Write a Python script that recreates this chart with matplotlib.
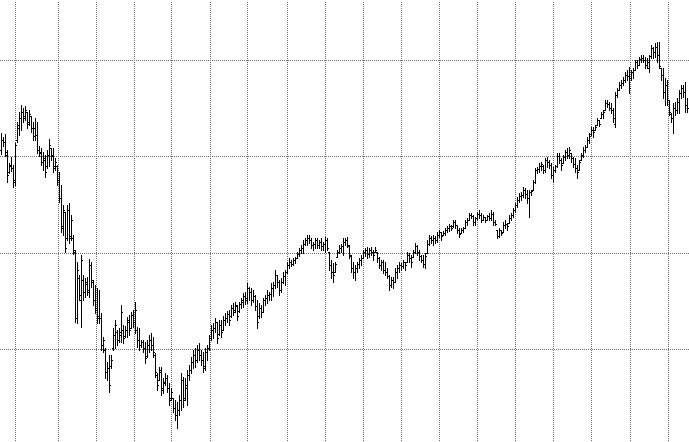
import matplotlib
matplotlib.use('Agg')
import matplotlib.pyplot as plt
from matplotlib.collections import LineCollection
import numpy as np

# OHLC bars, one per session
HIGH = [
    1267, 1263, 1266, 1250, 1237, 1243, 1235, 1257, 1278, 1288,
    1295, 1292, 1294, 1288, 1290, 1284, 1278, 1282, 1278, 1254,
    1252, 1248, 1245, 1250, 1261, 1252, 1252, 1242, 1235, 1228,
    1215, 1195, 1188, 1195, 1197, 1185, 1165, 1150, 1138, 1125,
    1145, 1125, 1122, 1123, 1141, 1138, 1120, 1115, 1112, 1110,
    1087, 1063, 1052, 1038, 1045, 1045, 1072, 1080, 1070, 1072,
    1095, 1075, 1074, 1083, 1085, 1088, 1090, 1098, 1073, 1072,
    1060, 1060, 1058, 1060, 1065, 1067, 1063, 1047, 1027, 1033,
    1033, 1022, 1027, 1025, 1017, 1012, 1002, 1000, 998, 1005,
    1027, 1023, 1022, 1030, 1035, 1043, 1050, 1052, 1055, 1057,
    1050, 1048, 1052, 1055, 1065, 1075, 1077, 1082, 1078, 1080,
    1080, 1084, 1087, 1089, 1090, 1095, 1097, 1098, 1095, 1098,
    1102, 1107, 1108, 1117, 1113, 1112, 1110, 1105, 1100, 1097,
    1095, 1102, 1105, 1110, 1108, 1117, 1118, 1130, 1125, 1120,
    1122, 1128, 1130, 1138, 1142, 1140, 1142, 1143, 1148, 1152,
    1155, 1160, 1162, 1165, 1165, 1162, 1158, 1162, 1162, 1160,
    1162, 1158, 1163, 1162, 1148, 1140, 1137, 1138, 1150, 1155,
    1156, 1162, 1162, 1163, 1155, 1145, 1138, 1135, 1138, 1142,
    1145, 1150, 1152, 1153, 1152, 1153, 1150, 1153, 1148, 1143,
    1140, 1140, 1138, 1132, 1125, 1123, 1123, 1132, 1135, 1138,
    1137, 1140, 1138, 1148, 1147, 1145, 1150, 1157, 1155, 1150,
    1145, 1145, 1147, 1160, 1165, 1164, 1165, 1164, 1168, 1170,
    1168, 1169, 1172, 1174, 1176, 1175, 1180, 1180, 1175, 1172,
    1172, 1173, 1180, 1182, 1187, 1187, 1185, 1183, 1188, 1190,
    1187, 1185, 1183, 1185, 1187, 1190, 1188, 1180, 1170, 1172,
    1170, 1178, 1180, 1177, 1185, 1187, 1192, 1197, 1203, 1207,
    1208, 1213, 1212, 1210, 1210, 1210, 1220, 1232, 1233, 1237,
    1238, 1235, 1242, 1243, 1240, 1237, 1233, 1235, 1247, 1247,
    1242, 1245, 1250, 1252, 1253, 1247, 1243, 1242, 1235, 1240,
    1247, 1253, 1255, 1263, 1267, 1273, 1273, 1275, 1282, 1280,
    1288, 1290, 1300, 1300, 1298, 1297, 1292, 1308, 1312, 1318,
    1320, 1323, 1328, 1330, 1333, 1330, 1332, 1340, 1340, 1343,
    1345, 1345, 1343, 1342, 1345, 1355, 1353, 1357, 1358, 1358,
    1332, 1332, 1322, 1320, 1300, 1287, 1297, 1298, 1302, 1310,
    1315, 1315, 1318, 1302,
]
LOW = [
    1246, 1254, 1244, 1218, 1227, 1229, 1213, 1215, 1258, 1265,
    1270, 1278, 1280, 1272, 1275, 1268, 1260, 1260, 1247, 1244,
    1235, 1230, 1223, 1232, 1234, 1240, 1228, 1230, 1215, 1198,
    1168, 1165, 1148, 1160, 1157, 1160, 1146, 1078, 1077, 1100,
    1073, 1100, 1103, 1105, 1103, 1113, 1095, 1087, 1077, 1077,
    1050, 1048, 1022, 1020, 1008, 1032, 1050, 1052, 1055, 1058,
    1058, 1057, 1063, 1063, 1065, 1072, 1073, 1067, 1053, 1050,
    1053, 1048, 1037, 1043, 1048, 1050, 1043, 1023, 1010, 1020,
    1005, 1007, 1015, 1008, 995, 1000, 988, 980, 972, 985,
    990, 993, 1000, 995, 1020, 1027, 1032, 1033, 1038, 1040,
    1035, 1028, 1030, 1040, 1050, 1060, 1062, 1068, 1057, 1065,
    1063, 1070, 1075, 1078, 1075, 1083, 1085, 1088, 1080, 1088,
    1092, 1093, 1096, 1097, 1100, 1095, 1098, 1090, 1072, 1082,
    1083, 1088, 1095, 1097, 1100, 1100, 1104, 1112, 1113, 1105,
    1108, 1117, 1115, 1127, 1132, 1134, 1135, 1137, 1142, 1144,
    1147, 1147, 1155, 1155, 1157, 1152, 1150, 1152, 1152, 1152,
    1150, 1150, 1148, 1150, 1130, 1122, 1118, 1128, 1143, 1147,
    1148, 1145, 1155, 1153, 1142, 1128, 1122, 1120, 1128, 1132,
    1135, 1142, 1144, 1142, 1143, 1145, 1140, 1148, 1138, 1132,
    1130, 1127, 1125, 1122, 1110, 1113, 1112, 1118, 1122, 1128,
    1130, 1132, 1130, 1138, 1138, 1133, 1143, 1147, 1145, 1140,
    1138, 1133, 1132, 1147, 1155, 1157, 1155, 1157, 1158, 1163,
    1160, 1165, 1165, 1168, 1169, 1170, 1173, 1172, 1167, 1163,
    1167, 1168, 1172, 1175, 1180, 1182, 1175, 1175, 1180, 1182,
    1178, 1180, 1178, 1180, 1180, 1180, 1175, 1175, 1162, 1163,
    1165, 1168, 1172, 1170, 1177, 1180, 1183, 1188, 1193, 1198,
    1200, 1203, 1202, 1197, 1183, 1205, 1210, 1217, 1227, 1228,
    1230, 1227, 1228, 1233, 1232, 1222, 1218, 1228, 1233, 1237,
    1230, 1237, 1240, 1242, 1242, 1238, 1233, 1228, 1222, 1230,
    1240, 1243, 1248, 1253, 1257, 1265, 1263, 1270, 1275, 1274,
    1282, 1282, 1290, 1293, 1290, 1287, 1278, 1273, 1303, 1310,
    1312, 1315, 1318, 1320, 1307, 1320, 1322, 1330, 1332, 1335,
    1338, 1338, 1332, 1332, 1328, 1342, 1342, 1343, 1338, 1332,
    1320, 1302, 1295, 1295, 1285, 1278, 1267, 1285, 1287, 1287,
    1302, 1303, 1288, 1288,
]
OPEN = [
    1250, 1260, 1258, 1245, 1228, 1235, 1232, 1218, 1260, 1272,
    1282, 1288, 1284, 1288, 1278, 1284, 1272, 1272, 1265, 1250,
    1248, 1238, 1240, 1234, 1245, 1252, 1245, 1234, 1234, 1220,
    1202, 1174, 1188, 1162, 1190, 1164, 1162, 1148, 1082, 1122,
    1100, 1120, 1108, 1116, 1108, 1135, 1118, 1100, 1092, 1084,
    1082, 1055, 1050, 1028, 1032, 1034, 1052, 1065, 1068, 1060,
    1065, 1070, 1064, 1070, 1078, 1072, 1085, 1078, 1070, 1060,
    1055, 1058, 1052, 1044, 1055, 1060, 1055, 1045, 1025, 1020,
    1028, 1012, 1018, 1022, 1012, 1002, 1002, 992, 985, 990,
    1000, 1020, 1002, 1012, 1025, 1030, 1038, 1045, 1040, 1050,
    1045, 1040, 1034, 1048, 1052, 1062, 1070, 1072, 1078, 1066,
    1075, 1070, 1080, 1082, 1086, 1084, 1092, 1090, 1094, 1089,
    1096, 1098, 1104, 1102, 1112, 1108, 1100, 1104, 1094, 1084,
    1092, 1088, 1100, 1102, 1105, 1106, 1112, 1115, 1125, 1118,
    1110, 1118, 1124, 1128, 1135, 1138, 1136, 1140, 1142, 1146,
    1150, 1152, 1156, 1160, 1162, 1160, 1155, 1156, 1160, 1155,
    1158, 1154, 1156, 1160, 1148, 1135, 1128, 1128, 1143, 1148,
    1152, 1154, 1158, 1160, 1154, 1144, 1132, 1128, 1132, 1136,
    1140, 1142, 1148, 1150, 1146, 1150, 1148, 1148, 1148, 1142,
    1135, 1138, 1130, 1128, 1124, 1115, 1120, 1118, 1128, 1132,
    1135, 1134, 1138, 1138, 1145, 1142, 1143, 1148, 1154, 1148,
    1144, 1140, 1136, 1147, 1156, 1162, 1160, 1162, 1160, 1165,
    1168, 1165, 1167, 1170, 1172, 1174, 1174, 1178, 1175, 1170,
    1167, 1170, 1172, 1178, 1180, 1185, 1184, 1178, 1182, 1186,
    1185, 1180, 1183, 1180, 1184, 1182, 1186, 1178, 1170, 1164,
    1170, 1168, 1175, 1176, 1177, 1182, 1185, 1190, 1195, 1200,
    1204, 1205, 1210, 1206, 1202, 1208, 1210, 1218, 1230, 1231,
    1234, 1234, 1230, 1240, 1238, 1235, 1225, 1230, 1234, 1244,
    1240, 1237, 1243, 1248, 1245, 1247, 1242, 1236, 1232, 1230,
    1240, 1245, 1250, 1253, 1260, 1266, 1270, 1270, 1275, 1280,
    1282, 1286, 1290, 1297, 1296, 1292, 1290, 1276, 1305, 1310,
    1315, 1317, 1320, 1325, 1324, 1322, 1328, 1330, 1338, 1335,
    1341, 1342, 1340, 1335, 1332, 1344, 1352, 1348, 1353, 1345,
    1332, 1325, 1308, 1315, 1300, 1286, 1282, 1292, 1290, 1298,
    1307, 1312, 1308, 1295,
]
CLOSE = [
    1260, 1258, 1248, 1225, 1234, 1232, 1220, 1255, 1275, 1282,
    1288, 1282, 1290, 1276, 1286, 1272, 1264, 1265, 1250, 1247,
    1238, 1242, 1228, 1245, 1255, 1244, 1232, 1238, 1218, 1202,
    1172, 1190, 1152, 1190, 1162, 1180, 1150, 1082, 1130, 1105,
    1140, 1108, 1118, 1110, 1135, 1120, 1100, 1090, 1082, 1082,
    1055, 1060, 1028, 1032, 1015, 1040, 1065, 1075, 1060, 1068,
    1088, 1062, 1070, 1080, 1070, 1085, 1078, 1090, 1060, 1055,
    1058, 1052, 1042, 1055, 1060, 1055, 1048, 1028, 1015, 1030,
    1010, 1017, 1022, 1012, 1000, 1008, 992, 985, 990, 1000,
    1020, 1000, 1015, 1025, 1030, 1038, 1045, 1040, 1050, 1045,
    1040, 1032, 1048, 1052, 1062, 1070, 1072, 1078, 1062, 1075,
    1068, 1080, 1082, 1086, 1080, 1092, 1088, 1095, 1084, 1096,
    1100, 1104, 1100, 1112, 1108, 1100, 1104, 1094, 1078, 1092,
    1088, 1100, 1102, 1105, 1106, 1112, 1115, 1125, 1118, 1110,
    1118, 1124, 1128, 1135, 1138, 1136, 1140, 1142, 1146, 1150,
    1152, 1156, 1160, 1162, 1160, 1155, 1156, 1160, 1155, 1158,
    1154, 1156, 1160, 1152, 1135, 1128, 1125, 1136, 1148, 1152,
    1154, 1158, 1160, 1155, 1145, 1132, 1128, 1132, 1136, 1140,
    1142, 1148, 1150, 1146, 1150, 1148, 1145, 1150, 1142, 1135,
    1138, 1130, 1128, 1124, 1115, 1120, 1118, 1128, 1132, 1135,
    1134, 1138, 1135, 1145, 1142, 1138, 1148, 1154, 1148, 1144,
    1140, 1136, 1144, 1156, 1162, 1160, 1162, 1160, 1165, 1168,
    1164, 1167, 1170, 1172, 1174, 1172, 1178, 1175, 1170, 1166,
    1170, 1172, 1178, 1180, 1185, 1184, 1178, 1182, 1186, 1185,
    1180, 1183, 1180, 1184, 1182, 1186, 1178, 1176, 1164, 1170,
    1167, 1175, 1176, 1174, 1182, 1185, 1190, 1195, 1200, 1204,
    1205, 1210, 1206, 1202, 1208, 1209, 1218, 1230, 1231, 1234,
    1236, 1230, 1240, 1238, 1235, 1225, 1230, 1234, 1244, 1240,
    1235, 1243, 1248, 1245, 1250, 1242, 1236, 1232, 1228, 1238,
    1245, 1250, 1253, 1260, 1264, 1270, 1268, 1273, 1280, 1276,
    1286, 1288, 1297, 1296, 1292, 1290, 1282, 1305, 1310, 1315,
    1317, 1320, 1325, 1324, 1312, 1328, 1330, 1338, 1335, 1341,
    1342, 1340, 1335, 1338, 1344, 1352, 1348, 1353, 1345, 1334,
    1325, 1308, 1315, 1300, 1288, 1282, 1292, 1290, 1298, 1307,
    1312, 1308, 1295, 1292,
]

# grid levels (price) and grid sessions (bar index) from the reference
GRID_PRICE = [1051, 1147.5, 1244, 1340.5]
GRID_BARS = [6.6, 28.2, 47.25, 66.35, 85.05, 104.35, 123.05, 142.6, 161.7,
             180.85, 199.7, 218.6, 237.75, 257.05, 276, 295.05, 314.15, 333.3]


def ohlc_segments(high, low, opn, close, tick=0.45):
    segs = []
    for i, (h, l, o, c) in enumerate(zip(high, low, opn, close)):
        segs.append([(i, l), (i, h)])
        segs.append([(i - tick, o), (i, o)])
        segs.append([(i, c), (i + tick, c)])
    return segs


def main():
    fig = plt.figure(figsize=(6.89, 4.42), dpi=100)
    ax = fig.add_axes([0, 0, 1, 1])

    n = len(HIGH)
    bars = LineCollection(ohlc_segments(HIGH, LOW, OPEN, CLOSE),
                          colors='black', linewidths=0.72,
                          antialiaseds=False, zorder=3)
    ax.add_collection(bars)

    ax.set_xlim(-0.65, n - 0.15)
    ax.set_ylim(958, 1400)

    # dotted grid: 1px dot, 2px gap
    for x in GRID_BARS:
        ax.axvline(x, color='#707070', linewidth=0.72,
                   linestyle=(0, (1, 2)), antialiased=False, zorder=1)
    for y in GRID_PRICE:
        ax.axhline(y, color='#707070', linewidth=0.72,
                   linestyle=(0, (1, 2)), antialiased=False, zorder=1)

    ax.set_xticks([])
    ax.set_yticks([])
    for sp in ax.spines.values():
        sp.set_visible(False)

    fig.savefig('out.png', dpi=100, facecolor='white')
    plt.close(fig)


if __name__ == '__main__':
    main()
